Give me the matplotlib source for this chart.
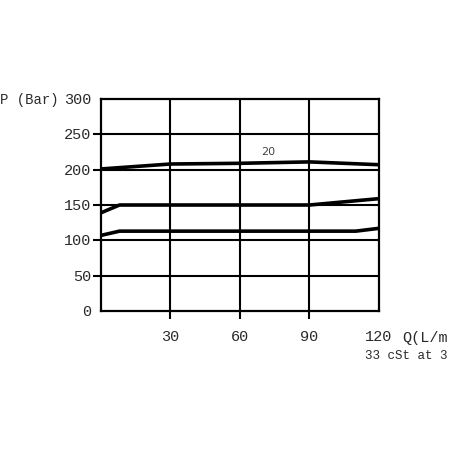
import matplotlib
matplotlib.use("Agg")
import matplotlib.pyplot as plt

# pressure curves (Q in L/min, P in bar)
q_top = [0, 30, 60, 90, 120]
p_top = [201, 208, 209, 211, 207]

q_mid = [0, 8, 90, 120]
p_mid = [139, 150, 150, 159]

q_low = [0, 8, 110, 120]
p_low = [107, 113, 113, 117]

x_ticks = [30, 60, 90, 120]
y_ticks = [0, 50, 100, 150, 200, 250, 300]
curve_label = "20"

mono = "Liberation Mono"
txt_color = "#2a2a2a"

fig = plt.figure(figsize=(4.52, 4.52), dpi=100)
ax = fig.add_axes([101 / 452, 140 / 452, 278 / 452, 212 / 452])

ax.set_xlim(0, 120)
ax.set_ylim(0, 300)

# grid lines drawn as black rules
for y in y_ticks[1:-1]:
    ax.axhline(y, color="black", linewidth=1.5, zorder=1)
for x in x_ticks[:-1]:
    ax.axvline(x, color="black", linewidth=1.5, zorder=1)

for q, p in [(q_top, p_top), (q_mid, p_mid), (q_low, p_low)]:
    ax.plot(q, p, color="black", linewidth=2.6, solid_capstyle="butt", zorder=3)

ax.text(72, 226, curve_label, fontsize=8, color="#444444",
        family="DejaVu Sans", ha="center", va="center")

for s in ax.spines.values():
    s.set_linewidth(1.6)

ax.set_xticks(x_ticks[:-1])
ax.set_yticks(y_ticks[1:-1])
ax.tick_params(direction="out", length=6, width=1.5,
               labelbottom=False, labelleft=False)

# tick labels as text so they sit like the original
for y in y_ticks:
    ax.text(-4, y, str(y), fontsize=11, family=mono, color=txt_color,
            ha="right", va="center", clip_on=False)
for x in x_ticks:
    ax.text(x, -36, str(x), fontsize=11, family=mono, color=txt_color,
            ha="center", va="center", clip_on=False)

fig.text(0 / 452, 1 - 100 / 452, "P (Bar)", fontsize=10, family=mono,
         color=txt_color, ha="left", va="center")
fig.text(402 / 452, 1 - 338 / 452, "Q(L/m", fontsize=11, family=mono,
         color=txt_color, ha="left", va="center")
fig.text(365 / 452, 1 - 356 / 452, "33 cSt at 3", fontsize=9, family=mono,
         color=txt_color, ha="left", va="center")

fig.savefig("out.png", dpi=100)
